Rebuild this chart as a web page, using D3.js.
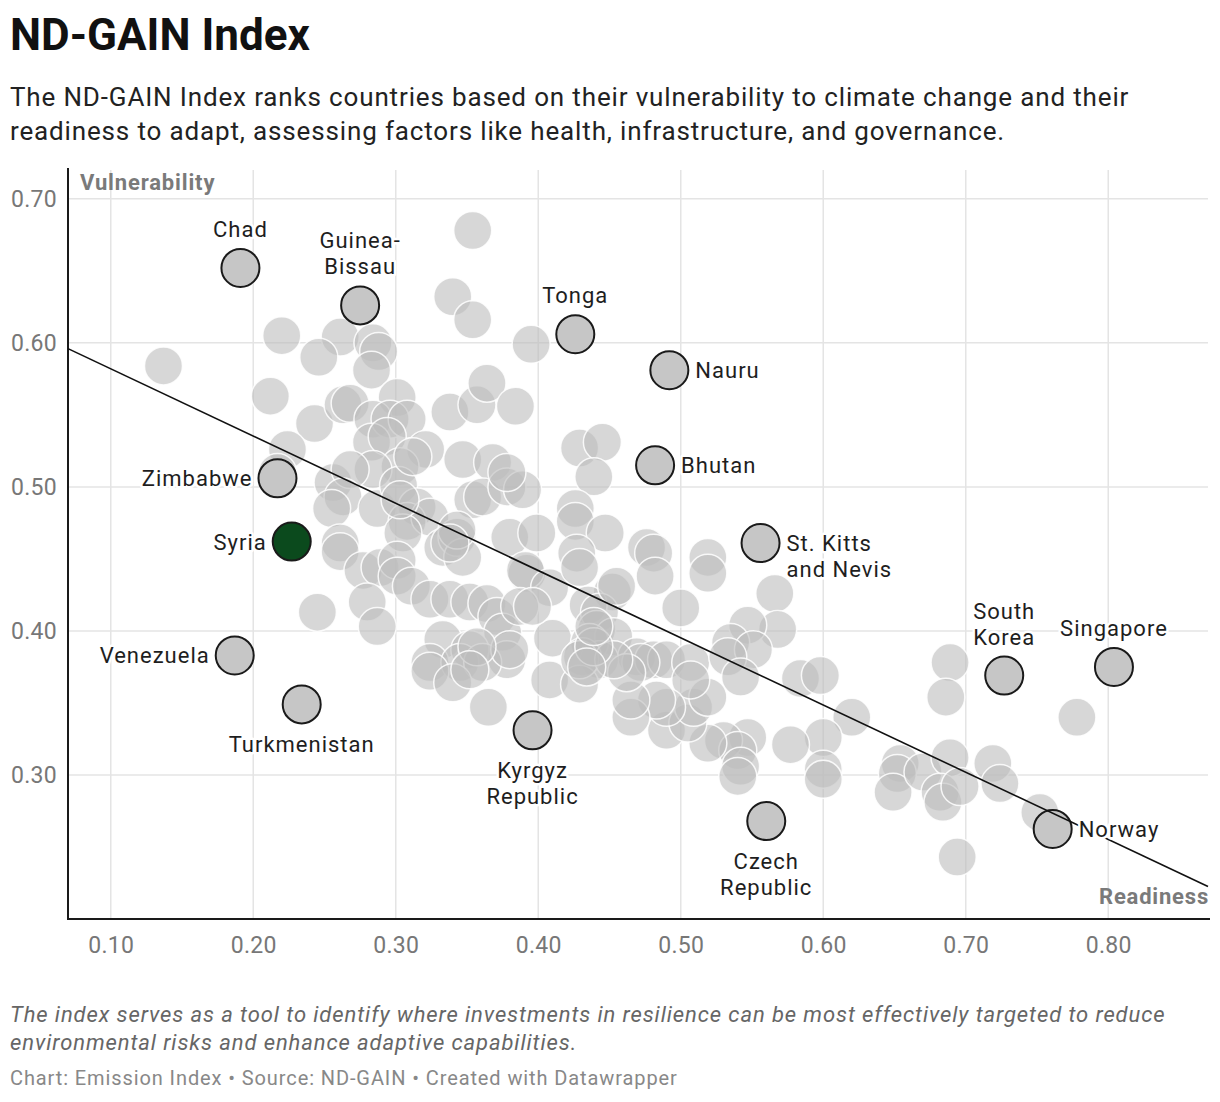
<!DOCTYPE html>
<html>
<head>
<meta charset="utf-8">
<script src="https://cdn.jsdelivr.net/npm/d3@7"></script>
<style>
  body { margin: 0; background: #fff; font-family: Roboto, "Noto Sans", sans-serif; }
</style>
</head>
<body>
<svg id="chart"></svg>
<script>
// --- data ---
const readiness = [
  0.137,0.220,0.261,0.246,0.284,0.288,0.283,0.340,0.354,0.354,
  0.395,0.212,0.243,0.263,0.268,0.301,0.284,0.296,0.308,0.283,
  0.294,0.321,0.303,0.284,0.224,0.338,0.357,0.364,0.384,0.347,
  0.217,0.256,0.268,0.263,0.255,0.287,0.302,0.315,0.308,0.324,
  0.305,0.333,0.343,0.347,0.368,0.354,0.361,0.378,0.389,0.380,
  0.392,0.261,0.261,0.277,0.289,0.301,0.301,0.311,0.280,0.245,
  0.287,0.324,0.338,0.352,0.364,0.371,0.375,0.333,0.352,0.324,
  0.345,0.378,0.361,0.429,0.445,0.439,0.426,0.426,0.447,0.427,
  0.399,0.312,0.303,0.343,0.338,0.476,0.481,0.482,0.519,0.519,
  0.500,0.566,0.568,0.547,0.535,0.551,0.452,0.435,0.443,0.410,
  0.441,0.453,0.436,0.391,0.408,0.387,0.380,0.378,0.469,0.481,
  0.490,0.443,0.431,0.507,0.533,0.357,0.324,0.340,0.352,0.365,
  0.408,0.429,0.429,0.396,0.455,0.542,0.584,0.598,0.620,0.600,
  0.577,0.600,0.600,0.547,0.530,0.540,0.542,0.540,0.519,0.490,
  0.505,0.509,0.519,0.507,0.490,0.483,0.465,0.465,0.472,0.462,
  0.453,0.439,0.439,0.434,0.429,0.689,0.686,0.778,0.654,0.652,
  0.649,0.670,0.689,0.682,0.684,0.696,0.719,0.724,0.752,0.694
];
const vulnerability = [
  0.584,0.605,0.604,0.590,0.600,0.594,0.581,0.632,0.616,0.678,
  0.599,0.563,0.544,0.557,0.558,0.562,0.547,0.547,0.547,0.531,
  0.535,0.526,0.514,0.512,0.526,0.552,0.557,0.572,0.556,0.519,
  0.510,0.503,0.512,0.493,0.485,0.485,0.501,0.486,0.476,0.479,
  0.468,0.458,0.465,0.451,0.517,0.491,0.493,0.500,0.498,0.465,
  0.440,0.461,0.455,0.442,0.444,0.449,0.438,0.431,0.420,0.413,
  0.403,0.422,0.422,0.420,0.419,0.410,0.399,0.394,0.387,0.378,
  0.378,0.380,0.378,0.527,0.531,0.507,0.485,0.476,0.468,0.454,
  0.468,0.521,0.491,0.470,0.461,0.458,0.454,0.438,0.451,0.440,
  0.416,0.426,0.401,0.404,0.392,0.387,0.427,0.418,0.413,0.395,
  0.401,0.396,0.392,0.442,0.430,0.417,0.387,0.510,0.382,0.380,
  0.380,0.380,0.382,0.378,0.382,0.389,0.372,0.364,0.373,0.347,
  0.366,0.363,0.380,0.417,0.431,0.368,0.367,0.369,0.340,0.326,
  0.321,0.304,0.297,0.326,0.324,0.317,0.306,0.299,0.322,0.331,
  0.336,0.347,0.354,0.366,0.347,0.352,0.340,0.352,0.378,0.371,
  0.380,0.389,0.403,0.375,0.444,0.378,0.354,0.340,0.308,0.301,
  0.288,0.302,0.312,0.288,0.281,0.292,0.308,0.294,0.274,0.243
];

// highlighted countries
const labelNames = ["Chad", "Guinea-\nBissau", "Tonga", "Nauru", "Bhutan", "St. Kitts\nand Nevis",
  "Zimbabwe", "Syria", "Venezuela", "Turkmenistan", "Kyrgyz\nRepublic", "Czech\nRepublic",
  "South\nKorea", "Singapore", "Norway"];
const labelReadiness = [0.191, 0.275, 0.426, 0.492, 0.482, 0.556, 0.217, 0.227, 0.187, 0.234, 0.396, 0.560, 0.727, 0.804, 0.761];
const labelVulnerability = [0.652, 0.626, 0.606, 0.581, 0.515, 0.461, 0.506, 0.462, 0.383, 0.349, 0.331, 0.268, 0.369, 0.375, 0.2625];
const labelSide = ["top", "top", "top", "right", "right", "right", "left", "left", "left", "bottom", "bottom", "bottom", "top", "top", "right"];
const focusCountry = "Syria";

// fitted trend line (two end points)
const trendReadiness = [0.07, 0.87];
const trendVulnerability = [0.596, 0.2225];

const xTicks = [0.1, 0.2, 0.3, 0.4, 0.5, 0.6, 0.7, 0.8];
const yTicks = [0.3, 0.4, 0.5, 0.6, 0.7];

const title = "ND-GAIN Index";
const subtitle = ["The ND-GAIN Index ranks countries based on their vulnerability to climate change and their",
  "readiness to adapt, assessing factors like health, infrastructure, and governance."];
const notes = ["The index serves as a tool to identify where investments in resilience can be most effectively targeted to reduce",
  "environmental risks and enhance adaptive capabilities."];
const credit = "Chart: Emission Index \u2022 Source: ND-GAIN \u2022 Created with Datawrapper";

// --- layout ---
const W = 1220, H = 1102;
const svg = d3.select("#chart").attr("width", W).attr("height", H);

const x = d3.scaleLinear().domain([0.07, 0.87]).range([68, 1208]);
const y = d3.scaleLinear().domain([0.2, 0.72]).range([919, 170]);
const R = 19;
const fmt = d3.format(".2f");

// header
svg.append("text").attr("x", 10).attr("y", 50)
  .attr("font-size", 44).attr("font-weight", 700).attr("fill", "#111").text(title);
svg.append("g").selectAll("text").data(subtitle).join("text")
  .attr("x", 10).attr("y", (d, i) => 106 + i * 34)
  .attr("font-size", 26).attr("letter-spacing", 0.85).attr("fill", "#222").text(d => d);

// grid
const grid = svg.append("g");
grid.selectAll("line.h").data(yTicks).join("line").attr("class", "h")
  .attr("x1", x.range()[0]).attr("x2", x.range()[1])
  .attr("y1", d => y(d)).attr("y2", d => y(d))
  .attr("stroke", "#e4e4e4").attr("stroke-width", 1.5);
grid.selectAll("line.v").data(xTicks).join("line").attr("class", "v")
  .attr("x1", d => x(d)).attr("x2", d => x(d))
  .attr("y1", y.range()[1]).attr("y2", y.range()[0])
  .attr("stroke", "#e4e4e4").attr("stroke-width", 1.5);

// tick labels via d3 axes
const yAxis = svg.append("g").attr("transform", `translate(${x.range()[0]},0)`)
  .call(d3.axisLeft(y).tickValues(yTicks).tickFormat(fmt).tickSize(0).tickPadding(11));
const xAxis = svg.append("g").attr("transform", `translate(0,${y.range()[0]})`)
  .call(d3.axisBottom(x).tickValues(xTicks).tickFormat(fmt).tickSize(0).tickPadding(18));
[xAxis, yAxis].forEach(a => {
  a.select(".domain").remove();
  a.selectAll("text").attr("font-family", "Roboto, sans-serif").attr("font-size", 23)
    .attr("letter-spacing", 0.3).attr("fill", "#777");
});

// axis lines
svg.append("line").attr("x1", x.range()[0]).attr("x2", x.range()[0])
  .attr("y1", 168).attr("y2", y.range()[0] + 1).attr("stroke", "#1a1a1a").attr("stroke-width", 2);
svg.append("line").attr("x1", x.range()[0] - 1).attr("x2", x.range()[1] + 2)
  .attr("y1", y.range()[0]).attr("y2", y.range()[0]).attr("stroke", "#1a1a1a").attr("stroke-width", 2);

// axis titles
svg.append("text").attr("x", 80).attr("y", 190).attr("font-size", 22).attr("font-weight", 700)
  .attr("letter-spacing", 0.85).attr("fill", "#7a7a7a").text("Vulnerability");
svg.append("text").attr("x", 1209).attr("y", 904).attr("text-anchor", "end")
  .attr("font-size", 22).attr("font-weight", 700).attr("letter-spacing", 0.8)
  .attr("fill", "#7a7a7a").text("Readiness");

// background countries
svg.append("g").selectAll("circle").data(d3.range(readiness.length)).join("circle")
  .attr("cx", i => x(readiness[i])).attr("cy", i => y(vulnerability[i])).attr("r", R)
  .attr("fill", "#bdbdbd").attr("fill-opacity", 0.6)
  .attr("stroke", "#fff").attr("stroke-width", 1.5).attr("stroke-opacity", 0.85);

// highlighted countries
const hl = d3.range(labelNames.length);
svg.append("g").selectAll("circle").data(hl).join("circle")
  .attr("cx", i => x(labelReadiness[i])).attr("cy", i => y(labelVulnerability[i])).attr("r", R)
  .attr("fill", i => labelNames[i] === focusCountry ? "#0b4a1d" : "#c6c6c6")
  .attr("stroke", "#1a1a1a").attr("stroke-width", 2);

// trend line
svg.append("path")
  .datum(d3.range(trendReadiness.length))
  .attr("d", d3.line().x(i => x(trendReadiness[i])).y(i => y(trendVulnerability[i])))
  .attr("fill", "none").attr("stroke", "#111").attr("stroke-width", 1.6);

// labels
const lineH = 26;
svg.append("g").selectAll("text").data(hl).join("text")
  .attr("font-size", 22).attr("letter-spacing", 1).attr("fill", "#1e1e1e")
  .attr("stroke", "#fff").attr("stroke-width", 5).attr("stroke-linejoin", "round")
  .attr("paint-order", "stroke")
  .each(function (i) {
    const lines = labelNames[i].split("\n");
    const cx = x(labelReadiness[i]), cy = y(labelVulnerability[i]);
    const side = labelSide[i];
    let tx = cx, ty = cy, anchor = "middle";
    if (side === "top") { ty = cy - 31 - (lines.length - 1) * lineH; }
    else if (side === "bottom") { ty = cy + 48; }
    else if (side === "right") { tx = cx + 26; ty = cy + 8; anchor = "start"; }
    else { tx = cx - 25; ty = cy + 8; anchor = "end"; }
    const t = d3.select(this).attr("text-anchor", anchor);
    lines.forEach((s, k) => t.append("tspan").attr("x", tx).attr("y", ty + k * lineH).text(s));
  });

// footer
svg.append("g").selectAll("text").data(notes).join("text")
  .attr("x", 10).attr("y", (d, i) => 1022 + i * 28)
  .attr("font-size", 22).attr("letter-spacing", 0.9).attr("font-style", "italic")
  .attr("fill", "#666").text(d => d);
svg.append("text").attr("x", 10).attr("y", 1085).attr("font-size", 20)
  .attr("letter-spacing", 0.9).attr("fill", "#888").text(credit);
</script>
</body>
</html>
